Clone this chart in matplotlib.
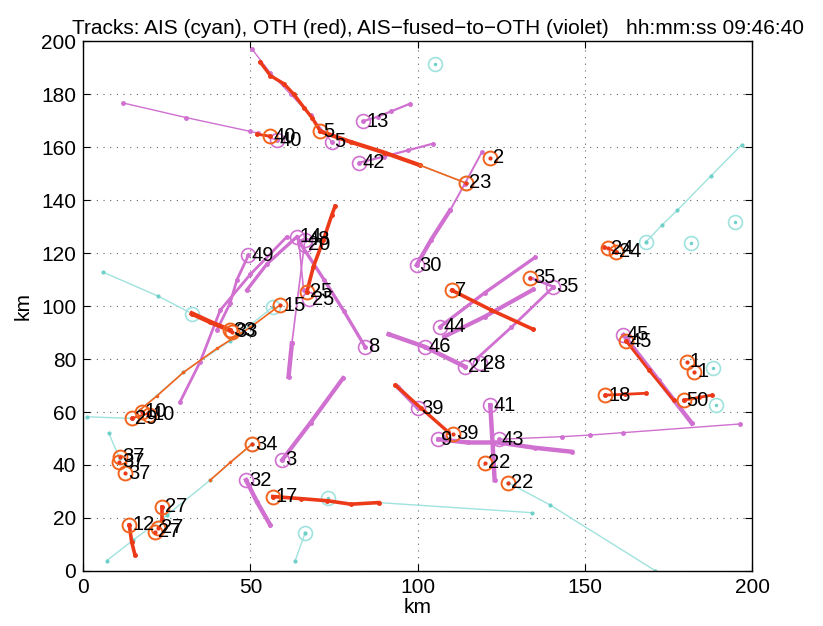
import matplotlib
matplotlib.use("Agg")
import matplotlib.pyplot as plt

plt.rcParams["font.family"] = ["Liberation Sans", "DejaVu Sans"]

# ---- track data (km) ----
# AIS tracks (cyan)
ais_x = [
    [168.3, 173.0, 177.6, 187.6, 196.9],
    [6.0, 22.4, 32.5],
    [1.1, 14.5],
    [7.6, 10.9],
    [7.1, 15.0, 25.0, 38.0, 50.5],
    [66.4, 63.4],
    [88.3, 134.1],
    [127.1, 139.6, 171.0],
    [17.0, 30.0, 44.0, 56.9],
    [100.7, 114.4],
]
ais_y = [
    [124.3, 130.6, 136.2, 149.1, 161.0],
    [112.8, 103.8, 97.2],
    [58.2, 57.6],
    [52.2, 42.5],
    [3.9, 11.7, 21.0, 34.3, 47.9],
    [14.5, 3.9],
    [25.8, 22.0],
    [33.3, 24.9, 0.1],
    [60.8, 75.0, 87.0, 99.8],
    [153.2, 146.5],
]
ais_cx = [105.2, 168.3, 181.8, 194.9, 188.4, 189.1, 32.5, 56.9, 73.3, 66.4, 114.4, 50.5]
ais_cy = [191.6, 124.3, 123.9, 131.8, 76.5, 62.6, 97.2, 99.8, 27.4, 14.5, 146.5, 47.9]

# AIS-fused-to-OTH tracks (violet)
fused_x = [
    [12.0, 30.8, 49.9, 52.4, 57.9],
    [50.4, 56.0, 62.0, 68.0, 74.3],
    [83.8, 88.0, 92.0, 97.8],
    [82.6, 90.0, 97.0, 104.7],
    [99.7, 104.0, 109.7],
    [109.7, 114.0, 119.2],
    [60.9, 50.0, 41.0, 35.0, 29.0],
    [63.9, 55.0, 48.9],
    [49.4, 46.0, 43.9, 40.0],
    [64.5, 72.0, 78.0, 84.3],
    [66.3, 62.4],
    [62.4, 61.4],
    [64.5, 65.9],
    [106.7, 120.0, 135.1],
    [108.0, 120.0, 134.6],
    [117.7, 128.0, 140.6],
    [91.3, 102.2, 114.2],
    [133.6, 140.6],
    [59.5, 68.0, 77.7],
    [48.7, 52.0, 55.9],
    [106.2, 115.0, 124.2, 135.0, 146.1],
    [124.2, 143.1, 151.4, 161.3, 196.4],
    [121.7, 122.4, 123.0],
    [161.5, 172.0, 182.0],
    [94.0, 100.2],
]
fused_y = [
    [176.7, 171.2, 166.0, 165.3, 162.6],
    [197.2, 188.0, 180.0, 172.0, 162.0],
    [169.9, 171.5, 173.5, 176.5],
    [154.2, 156.5, 158.8, 161.4],
    [115.5, 125.0, 136.2],
    [136.2, 146.0, 158.2],
    [126.2, 112.0, 98.5, 79.0, 63.9],
    [126.2, 116.0, 106.0],
    [119.2, 110.0, 101.0, 91.0],
    [124.5, 110.0, 98.0, 84.6],
    [125.0, 85.9],
    [85.9, 73.3],
    [124.0, 106.0],
    [92.2, 105.0, 118.4],
    [88.5, 96.0, 106.3],
    [80.2, 92.0, 107.3],
    [89.4, 84.6, 77.1],
    [110.8, 107.3],
    [41.9, 56.0, 72.8],
    [34.3, 26.0, 17.4],
    [49.7, 48.5, 48.5, 46.5, 45.0],
    [49.7, 50.7, 51.3, 52.2, 55.5],
    [62.6, 48.0, 34.3],
    [89.1, 72.0, 55.7],
    [69.5, 61.4],
]
fused_lab = ["40", "5", "13", "42", "30", "14", "48", "20", "49", "8", "44",
             "46", "21", "28", "35", "45", "39", "9", "41", "43", "3", "32", "25"]
fused_cx = [57.9, 74.3, 83.8, 82.6, 99.7, 63.9, 66.3, 66.3, 49.4, 84.3, 106.7,
            102.2, 114.2, 118.5, 140.6, 161.5, 100.2, 106.2, 121.7, 124.2, 59.5, 48.7, 67.5]
fused_cy = [162.6, 162.0, 169.9, 154.2, 115.5, 126.2, 125.0, 123.2, 119.2, 84.6, 92.2,
            84.6, 77.1, 78.5, 107.3, 89.1, 61.4, 49.7, 62.6, 49.7, 41.9, 34.3, 102.5]

# OTH tracks (red)
oth_x = [
    [52.9, 56.0, 60.0, 63.0, 66.0, 68.5, 70.9],
    [70.9, 80.0, 90.0, 100.7],
    [51.9, 55.9],
    [110.2, 122.0, 134.6],
    [66.9, 68.8, 71.8, 74.3, 75.3],
    [32.5, 38.0, 43.9],
    [162.3, 169.0, 176.5],
    [156.1, 162.0, 168.3],
    [179.5, 184.0, 187.9],
    [93.3, 101.0, 109.1],
    [56.7, 65.0, 73.0, 80.0, 88.3],
    [23.5, 23.5],
    [13.8, 14.5, 15.5],
    [155.8, 159.3],
    [14.5, 19.5],
]
oth_y = [
    [192.2, 187.0, 184.0, 180.0, 175.0, 171.0, 166.0],
    [166.0, 162.0, 158.0, 153.2],
    [164.9, 164.2],
    [106.0, 98.5, 91.2],
    [105.4, 114.8, 124.9, 134.3, 137.7],
    [97.2, 94.0, 90.9],
    [86.8, 76.0, 64.5],
    [66.4, 66.7, 67.1],
    [64.5, 65.5, 66.4],
    [70.2, 61.5, 52.5],
    [28.1, 27.3, 26.5, 25.2, 25.8],
    [24.3, 19.2],
    [17.4, 11.0, 6.0],
    [122.3, 120.5],
    [57.6, 59.5],
]
# thin orange OTH links drawn over AIS
link_x = [[58.9, 50.0, 40.0, 30.0, 22.0, 17.0], [50.5, 44.0, 38.0], [100.7, 114.4]]
link_y = [[100.4, 92.0, 84.0, 75.0, 66.0, 60.8], [47.9, 41.0, 34.3], [153.2, 146.5]]

oth_lab = ["40", "5", "2", "23", "24", "24", "35", "7", "25", "15", "33", "33",
           "45", "1", "1", "18", "50", "39", "22", "22", "17", "27", "27", "27",
           "12", "37", "37", "37", "29", "10", "10", "34"]
oth_cx = [55.9, 70.9, 121.7, 114.4, 157.0, 159.3, 133.6, 110.2, 66.9, 58.9, 43.9, 44.6,
          162.3, 180.5, 182.7, 156.1, 179.5, 110.6, 120.2, 127.1, 56.7, 23.5, 21.5, 22.5,
          13.8, 10.9, 10.8, 12.6, 14.5, 17.5, 19.8, 50.5]
oth_cy = [164.2, 166.0, 156.0, 146.5, 121.8, 120.5, 110.8, 106.0, 105.4, 100.4, 90.9, 90.3,
          86.8, 79.0, 75.2, 66.4, 64.5, 51.8, 40.9, 33.3, 28.1, 24.3, 14.8, 16.3,
          17.4, 43.1, 41.2, 36.9, 57.6, 60.1, 59.0, 47.9]

title = "Tracks: AIS (cyan), OTH (red), AIS\u2212fused\u2212to\u2212OTH (violet)   hh:mm:ss 09:46:40"

# ---- styles ----
CYAN = "#9fe2de"
CYAN_DOT = "#6fcfc9"
VIOLET = "#d070d0"
RED = "#ec3a18"
ORANGE = "#f2641e"
fused_lw = [1, 1, 1.6, 1.6, 3, 1.4, 2, 2.4, 2, 2.4, 1.2, 3.2, 1.2, 2.4, 3, 2,
            3.2, 2, 3, 3.2, 3.2, 1, 3.2, 3.2, 3.2]
oth_lw = [2.4, 3, 2, 2.6, 2.6, 3.4, 2, 2, 2, 2.4, 2.6, 2.6, 2.6, 1.5, 1.5]

fig = plt.figure(figsize=(8.23, 6.26), dpi=100)
ax = fig.add_axes([0.101, 0.088, 0.813, 0.846])

for xs, ys in zip(ais_x, ais_y):
    ax.plot(xs, ys, "-", color=CYAN, lw=1.0, marker=".", ms=4, mfc=CYAN_DOT, mec=CYAN_DOT, zorder=2)
ax.plot(ais_cx, ais_cy, "o", ms=10, mfc="none", mec=CYAN, mew=1.2, zorder=2)
ax.plot(ais_cx, ais_cy, ".", ms=3, color=CYAN_DOT, zorder=2)

for xs, ys, lw in zip(fused_x, fused_y, fused_lw):
    ax.plot(xs, ys, "-", color=VIOLET, lw=lw, marker=".", ms=5, zorder=3)
ax.plot(fused_cx, fused_cy, "o", ms=10, mfc="none", mec=VIOLET, mew=1.2, zorder=3)

for xs, ys, lw in zip(oth_x, oth_y, oth_lw):
    ax.plot(xs, ys, "-", color=RED, lw=lw, marker=".", ms=5, zorder=4)
for xs, ys in zip(link_x, link_y):
    ax.plot(xs, ys, "-", color=ORANGE, lw=1.2, marker=".", ms=3, zorder=4)
ax.plot(oth_cx, oth_cy, "o", ms=10, mfc="none", mec=ORANGE, mew=1.4, zorder=5)
ax.plot(oth_cx, oth_cy, ".", ms=4, color=RED, zorder=5)

for lab, x, y in zip(fused_lab, fused_cx, fused_cy):
    ax.text(x + 0.9, y, lab, fontsize=14.5, va="center", ha="left", zorder=6)
for lab, x, y in zip(oth_lab, oth_cx, oth_cy):
    ax.text(x + 0.9, y, lab, fontsize=14.5, va="center", ha="left", zorder=6)

ax.set_xlim(0, 200)
ax.set_ylim(0, 200)
ax.set_xticks(range(0, 201, 50))
ax.set_yticks(range(0, 201, 20))
ax.tick_params(direction="in", top=True, right=True, labelsize=15, length=5, pad=5)
ax.grid(True, linestyle=(0, (1, 5)), color="#666666", lw=0.8)
ax.set_axisbelow(True)
for s in ax.spines.values():
    s.set_linewidth(1.0)
ax.set_xlabel("km", fontsize=15, labelpad=1)
ax.set_ylabel("km", fontsize=15, labelpad=6)
ax.set_title(title, fontsize=15, pad=5, x=0.53)

fig.savefig("out.png", dpi=100)
